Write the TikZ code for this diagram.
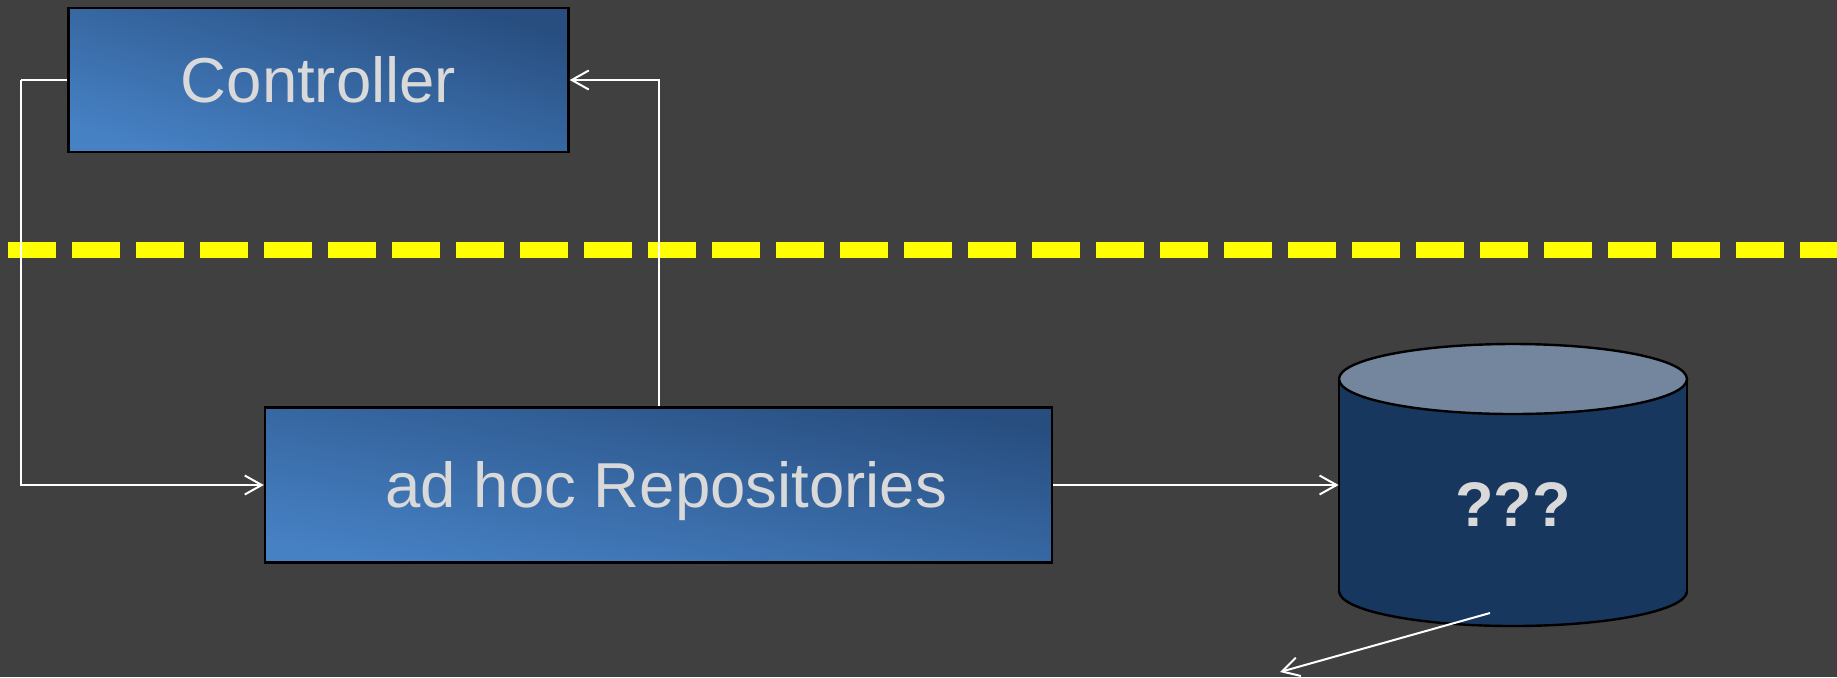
\documentclass[tikz,border=0pt]{standalone}
\usepackage{fontspec}
\setmainfont{Liberation Sans}
\usetikzlibrary{arrows.meta}
\definecolor{bg}{HTML}{404040}
\definecolor{boxdark}{HTML}{284E80}
\definecolor{boxlight}{HTML}{4681C4}
\definecolor{txt}{HTML}{D9D9D9}
\definecolor{dbbody}{HTML}{17375E}
\definecolor{dbtop}{HTML}{74869E}
\definecolor{lane}{HTML}{FFFF00}
\begin{document}
\begin{tikzpicture}[x=0.5pt,y=-0.5pt,
  boxnode/.style={draw=black, line width=1.2pt, shading=axis, top color=boxdark,
    bottom color=boxlight, inner sep=0pt, text=txt,
    font=\fontsize{31.75}{38}\selectfont, text height=22.7pt, text depth=0pt},
  conn/.style={draw=white, line width=1pt, line join=miter,
    -{Straight Barb[length=8.5pt,width=9.5pt]}},
  plain/.style={draw=white, line width=1pt},
  dbtext/.style={text=txt, font=\bfseries\fontsize{31.5}{38}\selectfont, inner sep=0pt},
]
\useasboundingbox (0,0) rectangle (1837,677);
\fill[bg] (0,0) rectangle (1837,677);

% dashed boundary
\draw[lane, line width=7.85pt, dash pattern=on 24pt off 8pt] (8.3,250) -- (1837,250);

% boxes
\node[boxnode, shading angle=-16, minimum width=250pt, minimum height=71.75pt] (ctrl) at (318.5,80) {Controller};
\node[boxnode, shading angle=-11, minimum width=393.5pt, minimum height=77.5pt] (repos) at (658.5,485) {\hspace*{7.8pt}ad hoc Repositories};

% cylinder
\fill[dbbody] (1339,379) rectangle (1687,591);
\fill[dbbody] (1513,591) ellipse[x radius=174, y radius=35];
\begin{scope}
  \clip (1300,591) rectangle (1720,640);
  \draw[black, line width=1.2pt] (1513,591) ellipse[x radius=174, y radius=35];
\end{scope}
\draw[black, line width=1.2pt] (1339,379) -- (1339,591) (1687,379) -- (1687,591);
\draw[black, line width=1.2pt, fill=dbtop] (1513,379) ellipse[x radius=174, y radius=35];
\node[minimum width=174pt, minimum height=106pt, inner sep=0pt] (db) at (1513,485) {};
\node[dbtext] (dblabel) at (1513,504) {???};

% connectors
\coordinate (lt) at (21,80);
\coordinate (dbout) at (1490,613);
\coordinate (sink) at (1280,672);
\draw[plain] (ctrl.west) -- (lt);
\draw[conn] (lt) |- (repos.west);
\draw[conn] (repos.north) |- (ctrl.east);
\draw[conn] (repos.east) -- (db.west);
\draw[conn] (dbout) -- (sink);
\end{tikzpicture}
\end{document}
